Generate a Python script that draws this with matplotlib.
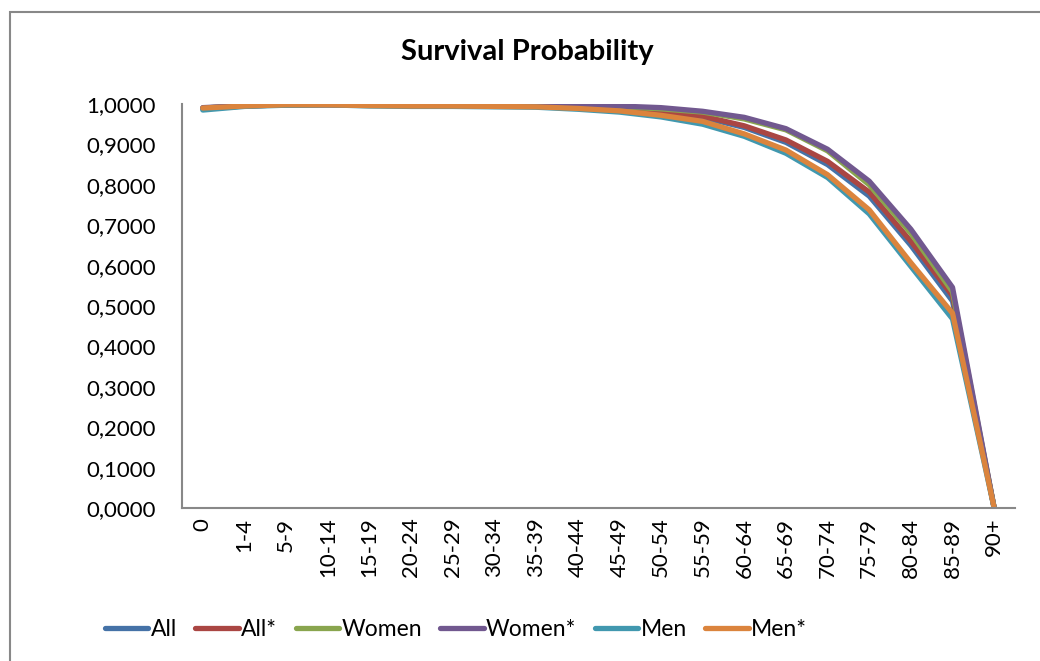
import matplotlib
matplotlib.use('Agg')
import matplotlib.pyplot as plt
from matplotlib.patches import Rectangle
from matplotlib.ticker import FuncFormatter

plt.rcParams['font.family'] = ['Lato', 'DejaVu Sans']

# age groups
ages = ['0', '1-4', '5-9', '10-14', '15-19', '20-24', '25-29', '30-34', '35-39', '40-44',
        '45-49', '50-54', '55-59', '60-64', '65-69', '70-74', '75-79', '80-84', '85-89', '90+']

# survival probability per series
all_p = [0.988, 0.995, 0.998, 0.998, 0.997, 0.996, 0.996, 0.995, 0.994, 0.992,
         0.988, 0.980, 0.967, 0.942, 0.905, 0.850, 0.772, 0.650, 0.512, 0.0]
all_star = [0.990, 0.995, 0.998, 0.998, 0.997, 0.996, 0.996, 0.995, 0.995, 0.993,
            0.989, 0.982, 0.970, 0.946, 0.911, 0.858, 0.782, 0.660, 0.525, 0.0]
women = [0.990, 0.996, 0.998, 0.999, 0.998, 0.998, 0.997, 0.997, 0.996, 0.995,
         0.993, 0.988, 0.980, 0.963, 0.936, 0.884, 0.800, 0.680, 0.535, 0.0]
women_star = [0.991, 0.996, 0.998, 0.999, 0.998, 0.998, 0.998, 0.997, 0.997, 0.996,
              0.995, 0.991, 0.982, 0.967, 0.939, 0.888, 0.809, 0.690, 0.546, 0.0]
men = [0.985, 0.994, 0.997, 0.998, 0.995, 0.994, 0.994, 0.993, 0.992, 0.987,
       0.980, 0.968, 0.950, 0.920, 0.878, 0.818, 0.728, 0.598, 0.468, 0.0]
men_star = [0.990, 0.995, 0.998, 0.998, 0.996, 0.995, 0.995, 0.994, 0.993, 0.989,
            0.983, 0.972, 0.957, 0.926, 0.886, 0.825, 0.738, 0.607, 0.482, 0.0]

series = [('All', all_p, '#4572A7'), ('All*', all_star, '#AA4643'),
          ('Women', women, '#89A54E'), ('Women*', women_star, '#71588F'),
          ('Men', men, '#4198AF'), ('Men*', men_star, '#DB843D')]

fig = plt.figure(figsize=(10.4, 6.61), dpi=100)
ax = fig.add_axes([182 / 1040, 1 - 508 / 661, 833 / 1040, 404 / 661])

x = list(range(len(ages)))
for name, vals, col in series:
    ax.plot(x, vals, color=col, lw=3.8, label=name, solid_capstyle='round',
            solid_joinstyle='round')

ax.set_xlim(-0.5, len(ages) - 0.5)
ax.set_ylim(0, 1.0)
ax.set_yticks([i / 10 for i in range(11)])
ax.yaxis.set_major_formatter(FuncFormatter(lambda v, p: ('%.4f' % v).replace('.', ',')))
ax.set_xticks(x)
ax.set_xticklabels(ages, rotation=90)
ax.tick_params(axis='both', length=0, labelsize=16)
ax.tick_params(axis='y', pad=19)
ax.tick_params(axis='x', pad=7)
for s in ['top', 'right']:
    ax.spines[s].set_visible(False)
for s in ['left', 'bottom']:
    ax.spines[s].set_color('#888888')
    ax.spines[s].set_linewidth(1.5)

fig.text(527 / 1040, 1 - 52 / 661, 'Survival Probability', ha='center', va='center',
         fontsize=21, fontweight='bold')

fig.legend(loc='center', bbox_to_anchor=(456 / 1040, 1 - 630 / 661), ncol=6,
           frameon=False, fontsize=16.5, handlelength=1.9, handletextpad=0.1,
           columnspacing=0.8)

fig.patches.append(Rectangle((10 / 1040, -0.01), 1.1, 1 - 12 / 661 + 0.01,
                             transform=fig.transFigure, fill=False,
                             edgecolor='#888888', lw=1.5))

fig.savefig('out.png', dpi=100)
